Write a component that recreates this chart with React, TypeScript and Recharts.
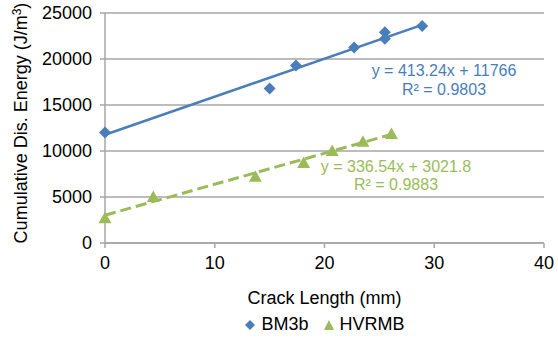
import React from 'react';
import {
  ScatterChart, Scatter, XAxis, YAxis, CartesianGrid, Legend, Customized,
} from 'recharts';

// Data
const bm3bX = [0, 15.0, 17.4, 22.7, 25.5, 25.5, 28.9];
const bm3bY = [12000, 16800, 19300, 21250, 22900, 22200, 23600];
const hvrmbX = [0, 4.4, 13.7, 18.1, 20.7, 23.5, 26.1];
const hvrmbY = [2700, 5000, 7200, 8700, 10000, 11000, 11850];
// Trendline endpoints (from the displayed fit equations)
const bm3bTrendX = [0, 28.9];
const bm3bTrendY = [11766, 23709];
const hvrmbTrendX = [0, 26.1];
const hvrmbTrendY = [3022, 11806];

const xTicks = [0, 10, 20, 30, 40];
const yTicks = [0, 5000, 10000, 15000, 20000, 25000];

const seriesNames = ['BM3b', 'HVRMB'];
const eqBlue = ['y = 413.24x + 11766', 'R² = 0.9803'];
const eqGreen = ['y = 336.54x + 3021.8', 'R² = 0.9883'];

const BLUE = '#4A7EBB';
const GREEN = '#9BBB59';
const GRID = '#A6A6A6';
const FONT = '"Liberation Sans", Arial, Helvetica, sans-serif';

const zip = (xs: number[], ys: number[]) => xs.map((x, i) => ({ x, y: ys[i] }));
const bm3b = zip(bm3bX, bm3bY);
const hvrmb = zip(hvrmbX, hvrmbY);
const bm3bTrend = zip(bm3bTrendX, bm3bTrendY);
const hvrmbTrend = zip(hvrmbTrendX, hvrmbTrendY);

const Diamond = (props: any) => {
  const { cx, cy } = props;
  if (cx == null || cy == null) return null;
  const r = 6;
  return <polygon points={`${cx},${cy - r} ${cx + r},${cy} ${cx},${cy + r} ${cx - r},${cy}`} fill={BLUE} />;
};

const Triangle = (props: any) => {
  const { cx, cy } = props;
  if (cx == null || cy == null) return null;
  return <polygon points={`${cx},${cy - 6.5} ${cx + 6.5},${cy + 5} ${cx - 6.5},${cy + 5}`} fill={GREEN} />;
};

const NoShape = () => null;

const LegendContent = () => (
  <div style={{ display: 'flex', justifyContent: 'center', alignItems: 'center', fontFamily: FONT, fontSize: 18, color: '#000' }}>
    <svg width={12} height={12} style={{ marginRight: 5 }}>
      <polygon points="6,1 11,6 6,11 1,6" fill={BLUE} />
    </svg>
    <span style={{ marginRight: 14 }}>{seriesNames[0]}</span>
    <svg width={12} height={12} style={{ marginRight: 5 }}>
      <polygon points="6,1 11,11 1,11" fill={GREEN} />
    </svg>
    <span>{seriesNames[1]}</span>
  </div>
);

const Equations = () => (
  <g fontFamily={FONT} fontSize={16} textAnchor="middle">
    <text x={444} y={76} fill={BLUE}>{eqBlue[0]}</text>
    <text x={444} y={95} fill={BLUE}>{eqBlue[1]}</text>
    <text x={396} y={172} fill={GREEN}>{eqGreen[0]}</text>
    <text x={396} y={190} fill={GREEN}>{eqGreen[1]}</text>
  </g>
);

export default function App() {
  return (
    <div style={{ position: 'absolute', left: 0, top: 0, width: 558, height: 338, background: '#fff' }}>
      <ScatterChart width={558} height={338} margin={{ top: 13, right: 14, left: 0, bottom: 0 }}>
        <CartesianGrid horizontal vertical={false} stroke={GRID} strokeWidth={1.5} />
        <XAxis
          type="number"
          dataKey="x"
          domain={[0, 40]}
          ticks={xTicks}
          height={95}
          tickSize={5}
          tickMargin={8}
          stroke={GRID}
          strokeWidth={1.5}
          tick={{ fill: '#000', fontSize: 18, fontFamily: FONT }}
          label={{
            content: (p: any) => {
              const vb = p.viewBox;
              return (
                <text x={vb.x + vb.width / 2} y={vb.y + 61} textAnchor="middle" fontSize={18} fontFamily={FONT} fill="#000">
                  Crack Length (mm)
                </text>
              );
            },
          }}
        />
        <YAxis
          type="number"
          dataKey="y"
          domain={[0, 25000]}
          ticks={yTicks}
          width={105}
          tickSize={5}
          tickMargin={8}
          stroke={GRID}
          strokeWidth={1.5}
          tick={{ fill: '#000', fontSize: 18, fontFamily: FONT }}
          label={{
            content: () => (
              <text x={27} y={123} transform="rotate(-90 27 123)" textAnchor="middle" fontSize={18} fontFamily={FONT} fill="#000">
                Cumulative Dis. Energy (J/m<tspan dy={-6} fontSize={12}>3</tspan><tspan dy={6}>)</tspan>
              </text>
            ),
          }}
        />
        <Scatter data={bm3bTrend} line={{ stroke: BLUE, strokeWidth: 2.5 }} shape={NoShape} isAnimationActive={false} legendType="none" />
        <Scatter data={hvrmbTrend} line={{ stroke: GREEN, strokeWidth: 3, strokeDasharray: '11 5' }} shape={NoShape} isAnimationActive={false} legendType="none" />
        <Scatter name={seriesNames[0]} data={bm3b} shape={Diamond} isAnimationActive={false} />
        <Scatter name={seriesNames[1]} data={hvrmb} shape={Triangle} isAnimationActive={false} />
        <Customized component={Equations} />
        <Legend
          layout="horizontal"
          verticalAlign="middle"
          align="center"
          content={LegendContent}
          wrapperStyle={{ top: 314, left: 105, width: 439 }}
        />
      </ScatterChart>
    </div>
  );
}
